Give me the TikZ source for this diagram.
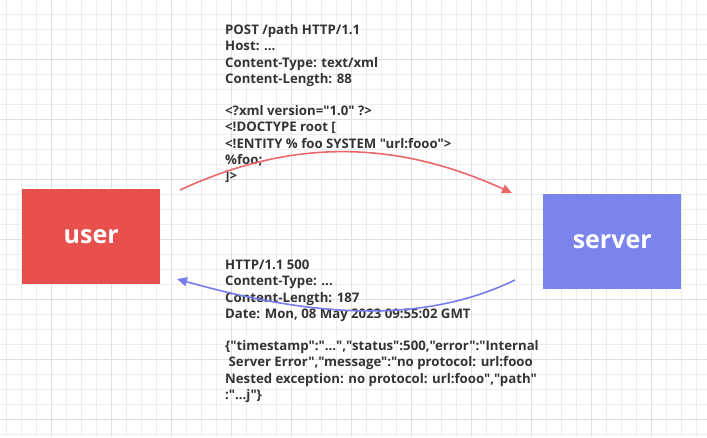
\documentclass[tikz,border=0pt]{standalone}
\usepackage{fontspec}
\setmainfont{Open Sans}[Ligatures=TeXOff]
\usetikzlibrary{arrows.meta,positioning}
\definecolor{userred}{RGB}{232,80,78}
\definecolor{serverblue}{RGB}{122,132,236}
\definecolor{reqred}{RGB}{236,104,104}
\definecolor{respblue}{RGB}{118,126,238}
\definecolor{msgtext}{RGB}{51,51,51}
\tikzset{
	party/.style={minimum width=138pt, minimum height=95pt, inner sep=0pt, font=\fontsize{25}{30}\selectfont\bfseries, text=white},
	msg/.style={anchor=north west, align=left, inner sep=0pt, text=msgtext, font=\fontsize{13.2}{16.2}\selectfont\bfseries},
	flow/.style={line width=1.6pt, -{Triangle[length=10pt,width=9pt]}}
}
\begin{document}
\begin{tikzpicture}[x=1pt,y=-1pt]
		\useasboundingbox (0,0) rectangle (707,437);
		% grid
		\foreach \k in {0,...,46}
			\draw[color=black!7, line width=0.8pt] (6.7+15*\k,0) -- (6.7+15*\k,437);
		\foreach \k in {0,...,28}
			\draw[color=black!7, line width=0.8pt] (0,14.3+15*\k) -- (707,14.3+15*\k);
		\foreach \k in {0,...,11}
			\draw[color=black!12, line width=0.8pt] (51.7+60*\k,0) -- (51.7+60*\k,437);
		\foreach \k in {0,...,6}
			\draw[color=black!12, line width=0.8pt] (0,59.3+60*\k) -- (707,59.3+60*\k);
		% boxes
		\node[party, fill=userred, anchor=north west] (user) at (22,189) {user};
		\node[party, fill=serverblue, anchor=north west] (server) at (543,193.5) {server};
		% texts
		\node[msg] (request) at (225,24.5) {POST /path HTTP/1.1\\
			Host: ...\\
			Content-Type: text/xml\\
			Content-Length: 88\\[16.2pt]
			<?xml version="1.0" ?>\\
			<!DOCTYPE root [\\
			<!ENTITY \% foo SYSTEM "url:fooo">\\
			\%foo;\\
			]>};
		\node[msg] (response) at (225,260) {HTTP/1.1 500\\
			Content-Type: ...\\
			Content-Length: 187\\
			Date: Mon, 08 May 2023 09:55:02 GMT\\[16.2pt]
			\{"timestamp":"...","status":500,"error":"Internal\\
			\hspace{3.5pt}Server Error","message":"no protocol: url:fooo\\
			Nested exception: no protocol: url:fooo","path"\\
			:"...j"\}};
		% arrows
		\coordinate (reqStart) at (180,190);
		\coordinate (reqEnd) at (512,193);
		\coordinate (respStart) at (515,280);
		\coordinate (respEnd) at (177,279);
		\draw[flow, color=reqred] (reqStart) .. controls (290,139) and (394,139) .. (reqEnd);
		\draw[flow, color=respblue] (respStart) .. controls (430,321) and (326,321) .. (respEnd);
	\end{tikzpicture}
\end{document}
